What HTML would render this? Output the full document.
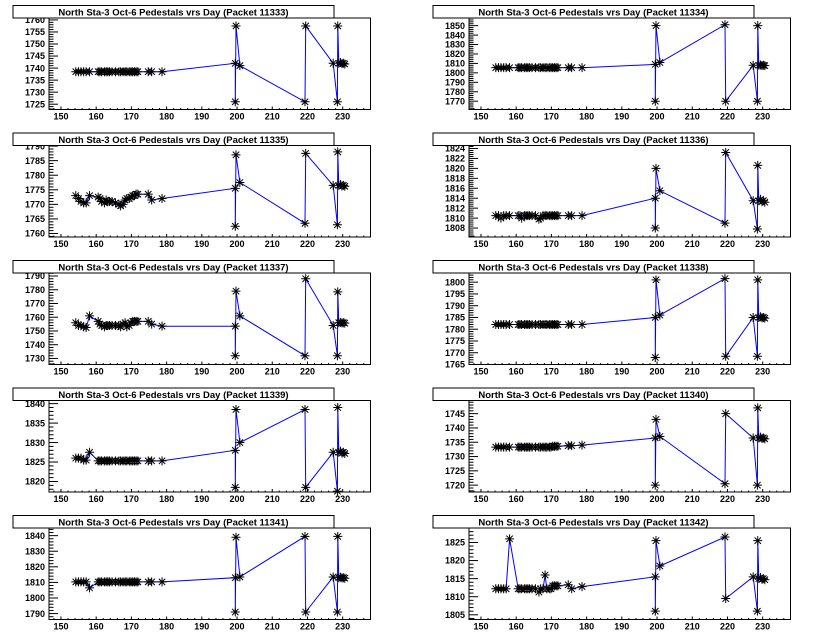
<!DOCTYPE html>
<html><head><meta charset="utf-8"><style>
html,body{margin:0;padding:0;background:#fff;width:840px;height:638px;overflow:hidden}
svg text{font-family:"Liberation Sans",Arial,sans-serif;font-weight:bold}
</style></head><body>
<svg id="s" width="840" height="638" xmlns="http://www.w3.org/2000/svg"></svg>
<script>
const X0=[152.5,153.3,154,154.8,155.5,156.5,159,159.5,160,160.8,161.3,161.8,162.3,163,164,165,165.5,166.2,166.8,167.3,168,168.5,169,169.5,170,170.5,173.5,174.5,177.5];
const X=X0.map(v=>154.2+(v-152.5)*0.98);
function flat(v,mods){const a=X.map(()=>v);if(mods)for(const k in mods)a[k]=mods[k];return a;}
const P=[
 {id:11333,lo:1722.8,hi:1760.8,st:5,base:flat(1738.5),M1:1742,L1:1726,H1:1757.5,M2:1741,p:[1726,1757.5],M3:1742,L3:1726,H3:1757.5,E:1742},
 {id:11334,lo:1761.2,hi:1858.1,st:10,base:flat(1805.5),M1:1809,L1:1770,H1:1850,M2:1811,p:[1851,1770],M3:1808,L3:1770,H3:1850,E:1808},
 {id:11335,lo:1758.8,hi:1790.2,st:5,base:[1773,1772,1771,1770.5,1770.5,1773,1772.5,1772,1771,1770.5,1771.5,1771,1771,1771,1770.5,1770,1769.5,1770,1771.5,1772,1772,1772.5,1773,1773,1773.5,1773.5,1773.5,1771.5,1772],M1:1775.5,L1:1762.5,H1:1787,M2:1777.5,p:[1763.5,1787.5],M3:1776.5,L3:1763,H3:1788,E:1776.5},
 {id:11336,lo:1806.2,hi:1824.6,st:2,base:flat(1810.5,{2:1810,8:1810,15:1809.8,16:1810}),M1:1814,L1:1808,H1:1820,M2:1815.5,p:[1809,1823.2],M3:1813.5,L3:1807.8,H3:1820.6,E:1813.5},
 {id:11337,lo:1725.6,hi:1792.2,st:10,base:[1756,1754,1754,1753,1752.5,1761,1757,1755,1754,1753,1754,1754,1754,1754,1754,1754,1753,1755,1756,1753,1754,1756,1757,1757,1757,1757,1757,1755,1753.5],M1:1753.5,L1:1732,H1:1779,M2:1761,p:[1732,1788],M3:1754,L3:1732,H3:1778.5,E:1756},
 {id:11338,lo:1765,hi:1803.9,st:5,base:flat(1782),M1:1785,L1:1768,H1:1801,M2:1786,p:[1801.5,1768.5],M3:1785,L3:1768.5,H3:1801,E:1785},
 {id:11339,lo:1817.3,hi:1840.8,st:5,base:flat(1825.3,{0:1826,1:1826,2:1826,3:1825.5,4:1825.5,5:1827.5}),M1:1828,L1:1818.5,H1:1838.5,M2:1830,p:[1838.5,1818.5],M3:1827.5,L3:1817.5,H3:1839,E:1827.5},
 {id:11340,lo:1717.6,hi:1749.6,st:5,base:flat(1733.3,{22:1733.6,23:1733.6,24:1733.6,25:1733.6,26:1733.8,27:1733.8,28:1734}),M1:1736.5,L1:1720,H1:1743,M2:1737,p:[1720.5,1745],M3:1736.5,L3:1720,H3:1747,E:1736.5},
 {id:11341,lo:1786.2,hi:1844.9,st:10,base:flat(1810.3,{5:1806.5}),M1:1813,L1:1791,H1:1839,M2:1813.5,p:[1839.5,1791],M3:1813.5,L3:1791,H3:1839.5,E:1813},
 {id:11342,lo:1803.7,hi:1829,st:5,base:flat(1812.2,{5:1826,15:1811.3,18:1816,22:1813,23:1813,24:1813,25:1813,26:1813.3,27:1812.2,28:1812.8}),M1:1815.5,L1:1806,H1:1825.5,M2:1818.5,p:[1826.5,1809.5],M3:1815.5,L3:1806,H3:1825.5,E:1815}
];
let out='';
const XL=146.6,XH=237.9;
P.forEach((d,i)=>{
 const c=i%2,r=Math.floor(i/2),ox=c*420,oy=r*127.5;
 const fx0=ox+49,fx1=ox+370.5,fy0=oy+18,fy1=oy+109.5;
 const sx=v=>fx0+(v-XL)/(XH-XL)*(fx1-fx0);
 const sy=v=>fy1-(v-d.lo)/(d.hi-d.lo)*(fy1-fy0);
 out+=`<rect x="${fx0}" y="${fy0}" width="${fx1-fx0}" height="${fy1-fy0}" fill="#fff" stroke="#000" stroke-width="1"/>`;
 for(let v=148;v<=236;v+=2){const x=sx(v);const maj=v%10==0;out+=`<line x1="${x}" y1="${fy1}" x2="${x}" y2="${fy1-(maj?3:1.5)}" stroke="#000"/>`;
  if(maj)out+=`<text x="${x}" y="${fy1+10}" font-size="9" text-anchor="middle">${v}</text>`;}
 const mn=d.st/5;
 for(let v=Math.ceil(d.lo/mn)*mn;v<=d.hi+1e-6;v+=mn){const y=sy(v);const maj=Math.abs(v/d.st-Math.round(v/d.st))<1e-6;
  out+=`<line x1="${fx0}" y1="${y}" x2="${fx0+(maj?9:4.5)}" y2="${y}" stroke="#000"/>`;
  if(maj)out+=`<text x="${fx0-4}" y="${y+3.2}" font-size="9" text-anchor="end">${Math.round(v)}</text>`;}
 const pts=X.map((x,k)=>[x,d.base[k]]);
 pts.push([199.5,d.M1],[199.5,d.L1],[199.7,d.H1],[200.8,d.M2],[219.3,d.p[0]],[219.5,d.p[1]],[227.3,d.M3],[228.5,d.L3],[228.6,d.H3],[228.9,d.E],[229.4,d.E+.3],[229.8,d.E-.2],[230.2,d.E],[230.6,d.E-.3]);
 out+=`<polyline fill="none" stroke="#0000ff" stroke-width="1" points="${pts.map(p=>sx(p[0]).toFixed(1)+','+sy(p[1]).toFixed(1)).join(' ')}"/>`;
 let m='';
 pts.forEach(p=>{const x=sx(p[0]),y=sy(p[1]),a=4.5,b=3.2;
  m+=`M${x-a},${y}h${2*a}M${x},${y-a}v${2*a}M${x-b},${y-b}l${2*b},${2*b}M${x-b},${y+b}l${2*b},${-2*b}`;});
 out+=`<path d="${m}" stroke="#000" stroke-width="1" fill="none"/>`;
 out+=`<rect x="${ox+13}" y="${oy+5.5}" width="321" height="12.5" fill="#fff" stroke="#000" stroke-width="1"/>`;
 out+=`<text x="${ox+173.5}" y="${oy+15.5}" font-size="9.5" text-anchor="middle">North Sta-3 Oct-6 Pedestals vrs Day (Packet ${d.id})</text>`;
});
document.getElementById('s').innerHTML=out;
</script>
</body></html>
